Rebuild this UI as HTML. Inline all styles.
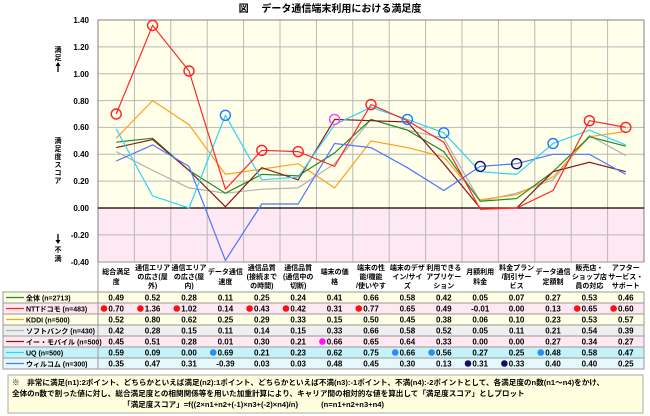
<!DOCTYPE html>
<html><head><meta charset="utf-8"><style>
html,body{margin:0;padding:0;background:#fff;}
svg{display:block;font-family:"Liberation Sans","Noto Sans CJK JP",sans-serif;}
</style></head><body>
<svg width="650" height="416" viewBox="0 0 650 416" xmlns="http://www.w3.org/2000/svg">
<rect width="650" height="416" fill="#fff"/>
<text x="330" y="12" font-size="10" font-weight="bold" text-anchor="middle" fill="#000">図　 データ通信端末利用における満足度</text>
<rect x="98" y="20" width="546" height="188" fill="#ffffea"/>
<rect x="98" y="208" width="546" height="54" fill="#fde8f4"/>
<g stroke="#b8b8b8" stroke-width="1">
<line x1="98" y1="20" x2="644" y2="20"/><line x1="98" y1="46.9" x2="644" y2="46.9"/><line x1="98" y1="73.7" x2="644" y2="73.7"/><line x1="98" y1="100.6" x2="644" y2="100.6"/><line x1="98" y1="127.4" x2="644" y2="127.4"/><line x1="98" y1="154.3" x2="644" y2="154.3"/><line x1="98" y1="181.1" x2="644" y2="181.1"/><line x1="98" y1="234.9" x2="644" y2="234.9"/>
<line x1="134.4" y1="20" x2="134.4" y2="368"/><line x1="170.8" y1="20" x2="170.8" y2="368"/><line x1="207.2" y1="20" x2="207.2" y2="368"/><line x1="243.6" y1="20" x2="243.6" y2="368"/><line x1="280" y1="20" x2="280" y2="368"/><line x1="316.4" y1="20" x2="316.4" y2="368"/><line x1="352.8" y1="20" x2="352.8" y2="368"/><line x1="389.2" y1="20" x2="389.2" y2="368"/><line x1="425.6" y1="20" x2="425.6" y2="368"/><line x1="462" y1="20" x2="462" y2="368"/><line x1="498.4" y1="20" x2="498.4" y2="368"/><line x1="534.8" y1="20" x2="534.8" y2="368"/><line x1="571.2" y1="20" x2="571.2" y2="368"/><line x1="607.6" y1="20" x2="607.6" y2="368"/>
</g>
<rect x="98" y="20" width="546" height="242" fill="none" stroke="#808080"/>
<line x1="98" y1="208" x2="644" y2="208" stroke="#000" stroke-width="1.2"/>
<g font-size="8" font-weight="bold" text-anchor="end" fill="#000">
<text x="89" y="23">1.40</text><text x="89" y="50">1.20</text><text x="89" y="77">1.00</text><text x="89" y="104">0.80</text><text x="89" y="130">0.60</text><text x="89" y="157">0.40</text><text x="89" y="184">0.20</text><text x="89" y="211">0.00</text><text x="89" y="238">-0.20</text><text x="89" y="265">-0.40</text>
</g>
<g font-size="7" font-weight="bold" fill="#000" text-anchor="middle">
<text x="58" y="52">満</text><text x="58" y="60">足</text>
<text x="58" y="143">満</text><text x="58" y="151">足</text><text x="58" y="159">度</text><text x="58" y="167">ス</text><text x="58" y="175">コ</text><text x="58" y="183">ア</text>
<text x="58" y="252">不</text><text x="58" y="261">満</text>
</g>
<g stroke="#000" stroke-width="1.3" fill="#000">
<line x1="58" y1="64" x2="58" y2="72"/><polygon points="55.5,66 60.5,66 58,62" stroke="none"/>
<line x1="58" y1="234" x2="58" y2="242"/><polygon points="55.5,240 60.5,240 58,244" stroke="none"/>
</g>
<g fill="none" stroke-width="1.2">
<polyline stroke="#b0b0b0" points="116.2,151.6 152.6,170.4 189,187.9 225.4,193.2 261.8,189.2 298.2,187.9 334.6,163.7 371,119.4 407.4,130.1 443.8,138.2 480.2,201.3 516.6,193.2 553,179.8 589.4,135.5 625.8,155.6"/>
<polyline stroke="#ffa020" points="116.2,138.2 152.6,100.6 189,124.7 225.4,174.4 261.8,169.1 298.2,163.7 334.6,187.9 371,140.9 407.4,147.6 443.8,157 480.2,199.9 516.6,194.6 553,177.1 589.4,136.8 625.8,131.4"/>
<polyline stroke="#228b22" points="116.2,142.2 152.6,138.2 189,170.4 225.4,193.2 261.8,174.4 298.2,175.8 334.6,152.9 371,119.4 407.4,130.1 443.8,151.6 480.2,201.3 516.6,198.6 553,171.7 589.4,136.8 625.8,146.2"/>
<polyline stroke="#8b1a1a" points="116.2,147.6 152.6,139.5 189,170.4 225.4,206.7 261.8,167.7 298.2,179.8 334.6,119.4 371,120.7 407.4,122 443.8,163.7 480.2,208 516.6,208 553,171.7 589.4,162.3 625.8,171.7"/>
<polyline stroke="#4a78ff" points="116.2,161 152.6,144.9 189,166.4 225.4,260.4 261.8,204 298.2,204 334.6,143.5 371,147.6 407.4,167.7 443.8,190.5 480.2,166.4 516.6,163.7 553,154.3 589.4,154.3 625.8,174.4"/>
<polyline stroke="#30d4f4" points="116.2,128.8 152.6,195.9 189,208 225.4,115.3 261.8,179.8 298.2,177.1 334.6,124.7 371,107.3 407.4,119.4 443.8,132.8 480.2,171.7 516.6,174.4 553,143.5 589.4,130.1 625.8,144.9"/>
<polyline stroke="#ff2828" points="116.2,114 152.6,25.4 189,71 225.4,189.2 261.8,150.3 298.2,151.6 334.6,166.4 371,104.6 407.4,120.7 443.8,142.2 480.2,209.3 516.6,208 553,190.5 589.4,120.7 625.8,127.4"/>
</g>
<g fill="none" stroke-width="1.4">
<g stroke="#ff2020"><circle cx="116.2" cy="114" r="5"/><circle cx="152.6" cy="25.4" r="5"/><circle cx="189" cy="71" r="5"/><circle cx="261.8" cy="150.3" r="5"/><circle cx="298.2" cy="151.6" r="5"/><circle cx="371" cy="104.6" r="5"/><circle cx="589.4" cy="120.7" r="5"/><circle cx="625.8" cy="127.4" r="5"/></g>
<g stroke="#1e7cff"><circle cx="225.4" cy="115.3" r="5"/><circle cx="407.4" cy="119.4" r="5"/><circle cx="443.8" cy="132.8" r="5"/><circle cx="553" cy="143.5" r="5"/></g>
<g stroke="#ff40ff"><circle cx="334.6" cy="119.4" r="5"/></g>
<g stroke="#101070"><circle cx="480.2" cy="166.4" r="5"/><circle cx="516.6" cy="163.7" r="5"/></g>
</g>
<rect x="98" y="262" width="546" height="30" fill="#fff"/>
<g fill="none" stroke="#999"><line x1="98" y1="262" x2="644" y2="262"/></g>
<g font-size="7" font-weight="bold" text-anchor="middle" fill="#000">
<text x="116.2" y="274">総合満足</text><text x="116.2" y="284">度</text>
<text x="152.6" y="270">通信エリア</text><text x="152.6" y="279">の広さ(屋</text><text x="152.6" y="288">外)</text>
<text x="189" y="270">通信エリア</text><text x="189" y="279">の広さ(屋</text><text x="189" y="288">内)</text>
<text x="225.4" y="274">データ通信</text><text x="225.4" y="284">速度</text>
<text x="261.8" y="270">通信品質</text><text x="261.8" y="279">(接続まで</text><text x="261.8" y="288">の時間)</text>
<text x="298.2" y="270">通信品質</text><text x="298.2" y="279">(通信中の</text><text x="298.2" y="288">切断)</text>
<text x="334.6" y="274">端末の価</text><text x="334.6" y="284">格</text>
<text x="371" y="270">端末の性</text><text x="371" y="279">能/機能</text><text x="371" y="288">/使いやす</text>
<text x="407.4" y="270">端末のデザ</text><text x="407.4" y="279">イン/サイ</text><text x="407.4" y="288">ズ</text>
<text x="443.8" y="270">利用できる</text><text x="443.8" y="279">アプリケー</text><text x="443.8" y="288">ション</text>
<text x="480.2" y="274">月額利用</text><text x="480.2" y="284">料金</text>
<text x="516.6" y="270">料金プラン</text><text x="516.6" y="279">/割引サー</text><text x="516.6" y="288">ビス</text>
<text x="553" y="274">データ通信</text><text x="553" y="284">定額制</text>
<text x="589.4" y="270">販売店・</text><text x="589.4" y="279">ショップ店</text><text x="589.4" y="288">員の対応</text>
<text x="625.8" y="270">アフター</text><text x="625.8" y="279">サービス・</text><text x="625.8" y="288">サポート</text>
</g>
<g>
<rect x="3" y="292" width="641" height="11" fill="#ffffe4"/>
<rect x="3" y="303" width="641" height="11" fill="#ffe8f2"/>
<rect x="3" y="314" width="641" height="11" fill="#ffffe4"/>
<rect x="3" y="325" width="641" height="11" fill="#efefef"/>
<rect x="3" y="336" width="641" height="11" fill="#ffe8f2"/>
<rect x="3" y="347" width="641" height="11" fill="#c4f2f8"/>
<rect x="3" y="358" width="641" height="11" fill="#e6f8fc"/>
</g>
<g stroke="#999" stroke-width="1" fill="none">
<rect x="3" y="292" width="641" height="77"/>
<line x1="3" y1="303" x2="644" y2="303"/><line x1="3" y1="314" x2="644" y2="314"/><line x1="3" y1="325" x2="644" y2="325"/><line x1="3" y1="336" x2="644" y2="336"/><line x1="3" y1="347" x2="644" y2="347"/><line x1="3" y1="358" x2="644" y2="358"/>
<line x1="98" y1="262" x2="98" y2="369"/>
</g>
<g stroke-width="1.2">
<line x1="6" y1="297.5" x2="24" y2="297.5" stroke="#228b22"/>
<line x1="6" y1="308.5" x2="24" y2="308.5" stroke="#ff2828"/>
<line x1="6" y1="319.5" x2="24" y2="319.5" stroke="#ffa020"/>
<line x1="6" y1="330.5" x2="24" y2="330.5" stroke="#b0b0b0"/>
<line x1="6" y1="341.5" x2="24" y2="341.5" stroke="#8b1a1a"/>
<line x1="6" y1="352.5" x2="24" y2="352.5" stroke="#30d4f4"/>
<line x1="6" y1="363.5" x2="24" y2="363.5" stroke="#4a78ff"/>
</g>
<g font-size="7" font-weight="bold" fill="#000">
<text x="26" y="300.5">全体 (n=2713)</text>
<text x="26" y="311.5">NTTドコモ (n=483)</text>
<text x="26" y="322.5">KDDI (n=500)</text>
<text x="26" y="333.5">ソフトバンク (n=430)</text>
<text x="26" y="344.5">イー・モバイル (n=500)</text>
<text x="26" y="355.5">UQ (n=500)</text>
<text x="26" y="366.5">ウィルコム (n=300)</text>
</g>
<g>
<g fill="#ff1010"><circle cx="104" cy="308.5" r="3.3"/><circle cx="140.4" cy="308.5" r="3.3"/><circle cx="176.8" cy="308.5" r="3.3"/><circle cx="249.6" cy="308.5" r="3.3"/><circle cx="286" cy="308.5" r="3.3"/><circle cx="358.8" cy="308.5" r="3.3"/><circle cx="577.2" cy="308.5" r="3.3"/><circle cx="613.6" cy="308.5" r="3.3"/></g>
<circle cx="322.4" cy="341.5" r="3.3" fill="#ff10ff"/>
<g fill="#2c8cf0"><circle cx="213.2" cy="352.5" r="3.3"/><circle cx="395.2" cy="352.5" r="3.3"/><circle cx="431.6" cy="352.5" r="3.3"/><circle cx="540.8" cy="352.5" r="3.3"/></g>
<g fill="#101068"><circle cx="468" cy="363.5" r="3.3"/><circle cx="504.4" cy="363.5" r="3.3"/></g>
</g>
<g font-size="8" font-weight="bold" text-anchor="middle" fill="#000">
<text y="300.5"><tspan x="116.2">0.49</tspan><tspan x="152.6">0.52</tspan><tspan x="189">0.28</tspan><tspan x="225.4">0.11</tspan><tspan x="261.8">0.25</tspan><tspan x="298.2">0.24</tspan><tspan x="334.6">0.41</tspan><tspan x="371">0.66</tspan><tspan x="407.4">0.58</tspan><tspan x="443.8">0.42</tspan><tspan x="480.2">0.05</tspan><tspan x="516.6">0.07</tspan><tspan x="553">0.27</tspan><tspan x="589.4">0.53</tspan><tspan x="625.8">0.46</tspan></text>
<text y="311.5"><tspan x="116.2">0.70</tspan><tspan x="152.6">1.36</tspan><tspan x="189">1.02</tspan><tspan x="225.4">0.14</tspan><tspan x="261.8">0.43</tspan><tspan x="298.2">0.42</tspan><tspan x="334.6">0.31</tspan><tspan x="371">0.77</tspan><tspan x="407.4">0.65</tspan><tspan x="443.8">0.49</tspan><tspan x="480.2">-0.01</tspan><tspan x="516.6">0.00</tspan><tspan x="553">0.13</tspan><tspan x="589.4">0.65</tspan><tspan x="625.8">0.60</tspan></text>
<text y="322.5"><tspan x="116.2">0.52</tspan><tspan x="152.6">0.80</tspan><tspan x="189">0.62</tspan><tspan x="225.4">0.25</tspan><tspan x="261.8">0.29</tspan><tspan x="298.2">0.33</tspan><tspan x="334.6">0.15</tspan><tspan x="371">0.50</tspan><tspan x="407.4">0.45</tspan><tspan x="443.8">0.38</tspan><tspan x="480.2">0.06</tspan><tspan x="516.6">0.10</tspan><tspan x="553">0.23</tspan><tspan x="589.4">0.53</tspan><tspan x="625.8">0.57</tspan></text>
<text y="333.5"><tspan x="116.2">0.42</tspan><tspan x="152.6">0.28</tspan><tspan x="189">0.15</tspan><tspan x="225.4">0.11</tspan><tspan x="261.8">0.14</tspan><tspan x="298.2">0.15</tspan><tspan x="334.6">0.33</tspan><tspan x="371">0.66</tspan><tspan x="407.4">0.58</tspan><tspan x="443.8">0.52</tspan><tspan x="480.2">0.05</tspan><tspan x="516.6">0.11</tspan><tspan x="553">0.21</tspan><tspan x="589.4">0.54</tspan><tspan x="625.8">0.39</tspan></text>
<text y="344.5"><tspan x="116.2">0.45</tspan><tspan x="152.6">0.51</tspan><tspan x="189">0.28</tspan><tspan x="225.4">0.01</tspan><tspan x="261.8">0.30</tspan><tspan x="298.2">0.21</tspan><tspan x="334.6">0.66</tspan><tspan x="371">0.65</tspan><tspan x="407.4">0.64</tspan><tspan x="443.8">0.33</tspan><tspan x="480.2">0.00</tspan><tspan x="516.6">0.00</tspan><tspan x="553">0.27</tspan><tspan x="589.4">0.34</tspan><tspan x="625.8">0.27</tspan></text>
<text y="355.5"><tspan x="116.2">0.59</tspan><tspan x="152.6">0.09</tspan><tspan x="189">0.00</tspan><tspan x="225.4">0.69</tspan><tspan x="261.8">0.21</tspan><tspan x="298.2">0.23</tspan><tspan x="334.6">0.62</tspan><tspan x="371">0.75</tspan><tspan x="407.4">0.66</tspan><tspan x="443.8">0.56</tspan><tspan x="480.2">0.27</tspan><tspan x="516.6">0.25</tspan><tspan x="553">0.48</tspan><tspan x="589.4">0.58</tspan><tspan x="625.8">0.47</tspan></text>
<text y="366.5"><tspan x="116.2">0.35</tspan><tspan x="152.6">0.47</tspan><tspan x="189">0.31</tspan><tspan x="225.4">-0.39</tspan><tspan x="261.8">0.03</tspan><tspan x="298.2">0.03</tspan><tspan x="334.6">0.48</tspan><tspan x="371">0.45</tspan><tspan x="407.4">0.30</tspan><tspan x="443.8">0.13</tspan><tspan x="480.2">0.31</tspan><tspan x="516.6">0.33</tspan><tspan x="553">0.40</tspan><tspan x="589.4">0.40</tspan><tspan x="625.8">0.25</tspan></text>
</g>
<rect x="8" y="375" width="635" height="38" fill="#ffffe0" stroke="#aaa"/>
<g font-size="7.6" font-weight="bold" fill="#000">
<text x="12" y="385">※　非常に満足(n1):2ポイント、どちらかといえば満足(n2):1ポイント、どちらかといえば不満(n3):-1ポイント、不満(n4):-2ポイントとして、各満足度のn数(n1〜n4)をかけ、</text>
<text x="12" y="396">全体のn数で割った値に対し、総合満足度との相関関係等を用いた加重計算により、キャリア間の相対的な値を算出して「満足度スコア」としプロット</text>
<text x="123" y="407">「満足度スコア」=f{(2×n1+n2+(-1)×n3+(-2)×n4)/n}　　　(n=n1+n2+n3+n4)</text>
</g>
</svg>
</body></html>
